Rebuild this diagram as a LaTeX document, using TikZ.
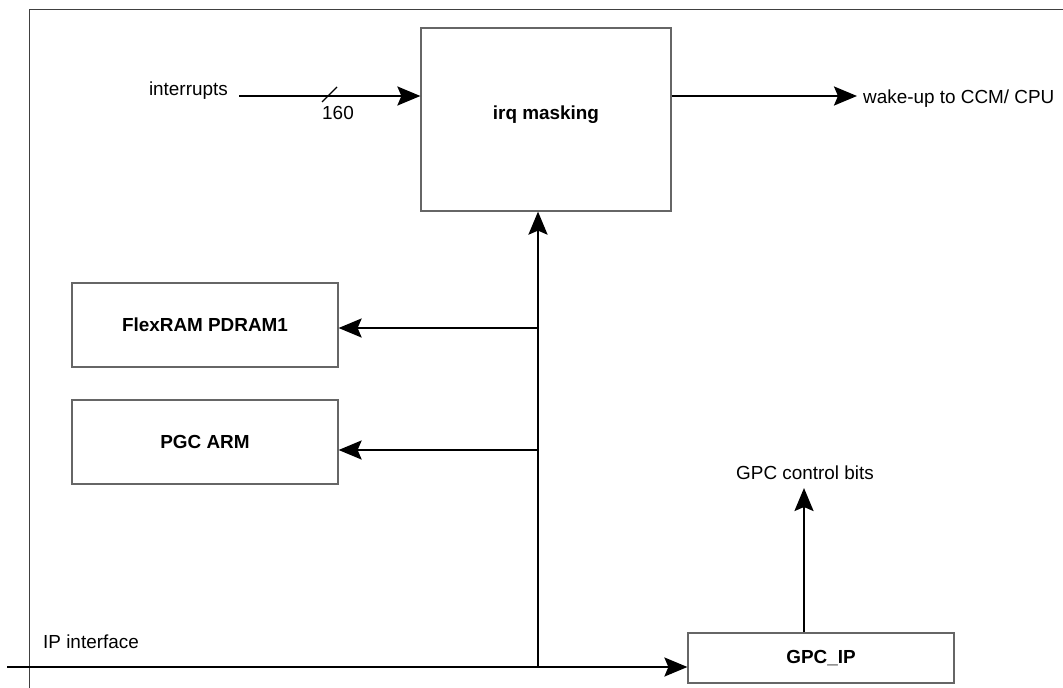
\documentclass[tikz,border=0pt]{standalone}
\usepackage{fontspec}
\setmainfont{Liberation Sans}
\usetikzlibrary{arrows.meta}
\begin{document}
\begin{tikzpicture}[x=1pt,y=-1pt, font=\fontsize{18.9}{22}\selectfont,
  box/.style={draw=black!60, line width=1.2pt, inner sep=0pt, font=\fontsize{18.9}{22}\selectfont\bfseries},
  conn/.style={line width=2.3pt, -{Stealth[length=23pt,width=19pt,inset=4pt]}},
  lbl/.style={inner sep=0pt}]
\useasboundingbox (0,0) rectangle (1063,688);
\draw[black!75, line width=1pt] (29,688) -- (29,9) -- (1063,9);
% blocks
\node[box, minimum width=250pt, minimum height=183pt] (irq) at (546,119.5) {\raisebox{13pt}{irq masking}};
\node[box, minimum width=266pt, minimum height=84pt] (flex) at (205,325) {FlexRAM PDRAM1};
\node[box, minimum width=266pt, minimum height=84pt] (pgc) at (205,442) {PGC ARM};
\node[box, minimum width=266pt, minimum height=50pt] (gpc) at (821,658) {GPC\_IP};
% labels
\node[lbl, anchor=base east] (intl) at (228,95) {interrupts};
\node[lbl, anchor=base west] (wake) at (863,103) {wake-up to CCM/ CPU};
\node[lbl, anchor=base west] (ipl) at (43,648) {IP interface};
\node[lbl, anchor=base] (gpcl) at (805,479) {GPC control bits};
\node[lbl] (num) at (338,113) {160};
% connectors
\coordinate (intin) at (239,96);
\draw[conn] (intin) -- (intin -| irq.west);
\coordinate (wakeend) at (857,96);
\draw[conn] (wakeend -| irq.east) -- (wakeend);
\draw[line width=1.2pt] (322,102) -- (337,87);
\coordinate (trunkbot) at (538,667);
\draw[conn, line width=2.6pt] (trunkbot) -- (trunkbot |- irq.south);
\coordinate (b1) at (538,328);
\draw[conn] (b1) -- (b1 -| flex.east);
\coordinate (b2) at (538,450);
\draw[conn] (b2) -- (b2 -| pgc.east);
\coordinate (ipin) at (7,667);
\draw[conn] (ipin) -- (ipin -| gpc.west);
\coordinate (gpctop) at (804,488);
\draw[conn] (gpctop |- gpc.north) -- (gpctop);
\end{tikzpicture}
\end{document}
